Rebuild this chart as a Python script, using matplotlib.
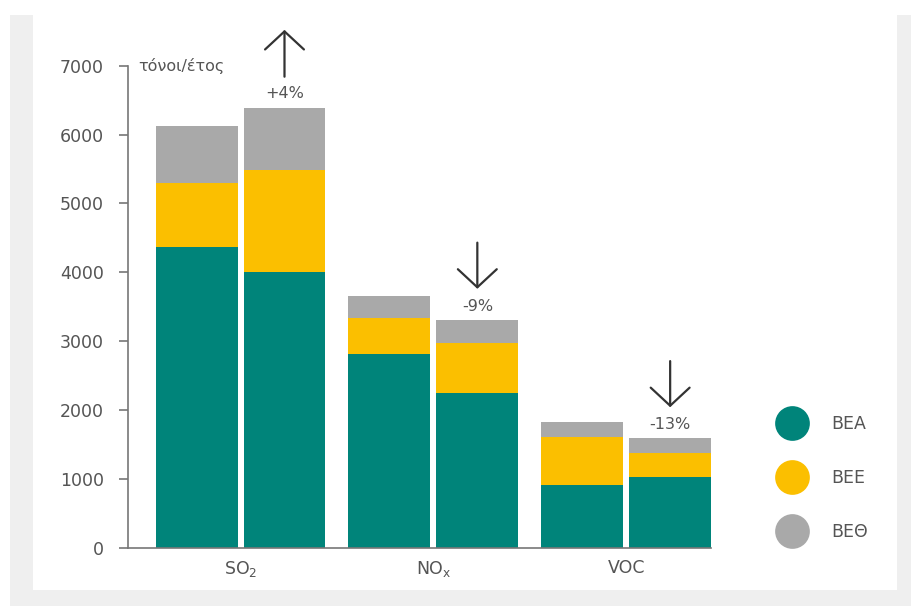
import matplotlib
matplotlib.use("Agg")
import matplotlib.pyplot as plt
from matplotlib.lines import Line2D
from matplotlib.patches import Rectangle

# emissions per pollutant, two years side by side (tonnes/year)
pollutants = [r"SO$_\mathregular{2}$", r"NO$_\mathregular{x}$", "VOC"]
bea = [4360, 4010, 2810, 2250, 910, 1020]
bee = [930, 1470, 520, 720, 700, 360]
beth = [840, 910, 320, 340, 220, 210]
series_names = ["BEA", "BEE", "BEΘ"]
pct_labels = ["+4%", "-9%", "-13%"]
yticks = [0, 1000, 2000, 3000, 4000, 5000, 6000, 7000]

colors = ["#00847a", "#fbbf00", "#a9a9a9"]
txt = "#555555"

plt.rcParams["font.family"] = ["DejaVu Sans"]
plt.rcParams["mathtext.fontset"] = "dejavusans"

fig = plt.figure(figsize=(9.11, 6.06), dpi=100)
fig.patch.set_facecolor("white")
# light grey frame behind a white panel
fig.patches.append(Rectangle((0.011, 0), 0.989, 0.975, transform=fig.transFigure,
                             facecolor="#efefef", edgecolor="none", zorder=-2))
fig.patches.append(Rectangle((0.0362, 0.0264), 0.9484, 0.9736, transform=fig.transFigure,
                             facecolor="white", edgecolor="none", zorder=-1))

ax = fig.add_axes([0.1402, 0.0962, 0.6403, 0.7954])
ax.set_facecolor("none")

width = 0.425
offset = 0.228
xs = []
for g in range(len(pollutants)):
    xs += [g - offset, g + offset]

bottom = [0] * len(xs)
for vals, c in zip([bea, bee, beth], colors):
    ax.bar(xs, vals, width=width, bottom=bottom, color=c, linewidth=0)
    bottom = [b + v for b, v in zip(bottom, vals)]

# change arrows above the second bar of each group
for g, lab in enumerate(pct_labels):
    x = xs[2 * g + 1]
    top = bottom[2 * g + 1]
    ax.text(x, top + 200, lab, ha="center", va="center", fontsize=11.5, color=txt)
    if lab.startswith("+"):
        tail, tip = top + 450, top + 1130
    else:
        tail, tip = top + 1120, top + 450
    ax.annotate("", xy=(x, tip), xytext=(x, tail), annotation_clip=False,
                arrowprops=dict(arrowstyle="->,head_length=1.3,head_width=1.4",
                                mutation_scale=10, lw=1.6, color="#333333",
                                shrinkA=0, shrinkB=0))

ax.set_xlim(-0.585, 2.44)
ax.set_ylim(0, 7000)
ax.set_yticks(yticks)
ax.set_xticks(range(len(pollutants)))
ax.set_xticklabels(pollutants)
ax.tick_params(axis="y", length=6.5, width=1.2, color="#777777", pad=10.5,
               labelsize=12.5, labelcolor=txt)
ax.tick_params(axis="x", length=0, pad=8, labelsize=12.5, labelcolor=txt)
for s in ["top", "right"]:
    ax.spines[s].set_visible(False)
for s in ["left", "bottom"]:
    ax.spines[s].set_color("#777777")
    ax.spines[s].set_linewidth(1.2)

ax.annotate("τόνοι/έτος", xy=(0, 7000), xycoords=("axes fraction", "data"),
            xytext=(7.5, 0), textcoords="offset points", va="center",
            fontsize=11.5, color=txt)

handles = [Line2D([], [], marker="o", linestyle="none", markersize=25,
                  markerfacecolor=c, markeredgecolor="none") for c in colors]
fig.legend(handles, series_names, loc="center left", bbox_to_anchor=(0.838, 0.211),
           frameon=False, fontsize=12.5, labelcolor=txt, handlelength=1.5,
           handletextpad=1.52, labelspacing=2.07, borderpad=0.4)

fig.savefig("out.png", dpi=100, facecolor=fig.get_facecolor())
